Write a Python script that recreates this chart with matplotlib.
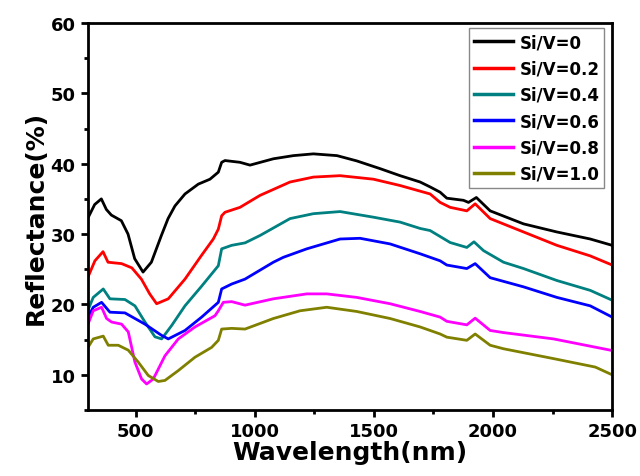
import matplotlib.pyplot as plt
from matplotlib.ticker import MultipleLocator

# Espectros de reflectancia
labels = ["Si/V=0", "Si/V=0.2", "Si/V=0.4", "Si/V=0.6", "Si/V=0.8", "Si/V=1.0"]
colors = ["black", "#ff0000", "#008080", "#0000ff", "#ff00ff", "#808000"]

x0 = [300, 328, 356, 377, 398, 440, 468, 496, 531, 566, 608, 636, 665, 707, 763, 812, 847, 861, 875,
      938, 980, 1078, 1162, 1246, 1345, 1428, 1526, 1610, 1694, 1736, 1778, 1806, 1876, 1897, 1930,
      1988, 2128, 2268, 2408, 2500]
y0 = [32.3, 34.2, 35.0, 33.5, 32.7, 31.9, 30.0, 26.5, 24.6, 26.0, 29.8, 32.2, 34.0, 35.7, 37.1, 37.8,
      38.8, 40.2, 40.45, 40.2, 39.8, 40.7, 41.15, 41.4, 41.15, 40.4, 39.3, 38.3, 37.4, 36.7, 35.95,
      35.1, 34.8, 34.5, 35.2, 33.3, 31.45, 30.3, 29.3, 28.4]

x1 = [300, 329, 363, 384, 441, 484, 524, 559, 588, 637, 707, 777, 826, 847, 861, 875, 938, 1022,
      1148, 1246, 1358, 1498, 1610, 1736, 1778, 1820, 1890, 1925, 1988, 2128, 2268, 2408, 2500]
y1 = [23.9, 26.2, 27.5, 26.0, 25.8, 25.2, 23.6, 21.5, 20.1, 20.8, 23.6, 27.0, 29.3, 30.7, 32.6, 33.1,
      33.8, 35.5, 37.4, 38.1, 38.3, 37.8, 36.9, 35.7, 34.5, 33.8, 33.3, 34.3, 32.2, 30.3, 28.4, 26.9, 25.6]

x2 = [300, 322, 364, 392, 455, 497, 539, 581, 609, 651, 707, 777, 847, 861, 903, 959, 1022, 1148,
      1246, 1358, 1498, 1610, 1694, 1736, 1820, 1890, 1920, 1960, 2044, 2128, 2268, 2408, 2500]
y2 = [19.2, 21.0, 22.2, 20.8, 20.7, 19.8, 17.5, 15.4, 15.1, 17.0, 19.8, 22.6, 25.5, 27.9, 28.4, 28.75,
      29.8, 32.2, 32.9, 33.2, 32.4, 31.7, 30.8, 30.5, 28.8, 28.1, 28.9, 27.65, 26.0, 25.1, 23.4, 22.0, 20.6]

x3 = [300, 322, 357, 392, 455, 539, 609, 637, 707, 777, 847, 861, 903, 959, 1078, 1120, 1218, 1358,
      1442, 1568, 1694, 1778, 1806, 1890, 1925, 1988, 2128, 2268, 2408, 2500]
y3 = [18.2, 19.6, 20.3, 18.9, 18.8, 17.2, 15.6, 15.1, 16.3, 18.2, 20.3, 22.2, 22.9, 23.6, 26.0, 26.7,
      27.9, 29.3, 29.4, 28.6, 27.2, 26.2, 25.6, 25.1, 25.8, 23.8, 22.5, 21.0, 19.8, 18.2]

x4 = [300, 322, 357, 378, 399, 441, 469, 497, 525, 546, 574, 623, 679, 749, 833, 847, 868, 903, 959,
      1078, 1218, 1302, 1428, 1568, 1694, 1778, 1806, 1890, 1925, 1988, 2044, 2254, 2500]
y4 = [17.2, 19.1, 19.6, 18.0, 17.5, 17.2, 16.1, 11.8, 9.4, 8.7, 9.4, 12.7, 15.1, 16.8, 18.4, 19.1,
      20.3, 20.4, 19.9, 20.8, 21.5, 21.5, 21.0, 20.1, 19.0, 18.2, 17.6, 17.1, 18.05, 16.3, 16.0, 15.1, 13.45]

x5 = [300, 322, 364, 385, 427, 469, 511, 553, 595, 623, 679, 749, 819, 847, 861, 903, 959, 1078,
      1190, 1302, 1428, 1568, 1694, 1778, 1806, 1890, 1925, 1988, 2044, 2254, 2429, 2500]
y5 = [13.9, 15.1, 15.5, 14.2, 14.2, 13.5, 11.8, 9.9, 9.05, 9.2, 10.6, 12.5, 13.9, 14.9, 16.5, 16.6,
      16.5, 18.0, 19.1, 19.6, 19.0, 18.0, 16.8, 15.8, 15.35, 14.9, 15.8, 14.2, 13.7, 12.3, 11.1, 10.0]

xs = [x0, x1, x2, x3, x4, x5]
ys = [y0, y1, y2, y3, y4, y5]

plt.rcParams['font.family'] = 'DejaVu Sans'
plt.rcParams['font.weight'] = 'bold'

fig = plt.figure(figsize=(6.4, 4.77), dpi=100)
ax = fig.add_axes([0.1375, 0.1384, 0.819, 0.8113])

for x, y, c, lab in zip(xs, ys, colors, labels):
    ax.plot(x, y, color=c, lw=2, label=lab)

ax.set_xlim(300, 2500)
ax.set_ylim(5, 60)
ax.xaxis.set_major_locator(MultipleLocator(500))
ax.xaxis.set_minor_locator(MultipleLocator(250))
ax.yaxis.set_major_locator(MultipleLocator(10))
ax.yaxis.set_minor_locator(MultipleLocator(5))
ax.set_yticks([10, 20, 30, 40, 50, 60])

for s in ax.spines.values():
    s.set_linewidth(2)
ax.tick_params(which='both', direction='out', width=2, top=False, right=False)
ax.tick_params(which='major', length=5, labelsize=13, pad=4)
ax.tick_params(which='minor', length=3)
for t in ax.get_xticklabels() + ax.get_yticklabels():
    t.set_fontweight('bold')

ax.set_xlabel("Wavelength(nm)", fontsize=18, fontweight='bold', labelpad=0)
ax.set_ylabel("Reflectance(%)", fontsize=18, fontweight='bold', labelpad=2)

leg = ax.legend(loc='upper right', bbox_to_anchor=(0.985, 0.987), borderaxespad=0,
                fontsize=12, handlelength=2.3, labelspacing=0.5, fancybox=False,
                framealpha=1, edgecolor='#888888', handletextpad=0.4, borderpad=0.3)
leg.get_frame().set_linewidth(1)
for line in leg.get_lines():
    line.set_linewidth(2.5)

plt.savefig("out.png", dpi=100)
